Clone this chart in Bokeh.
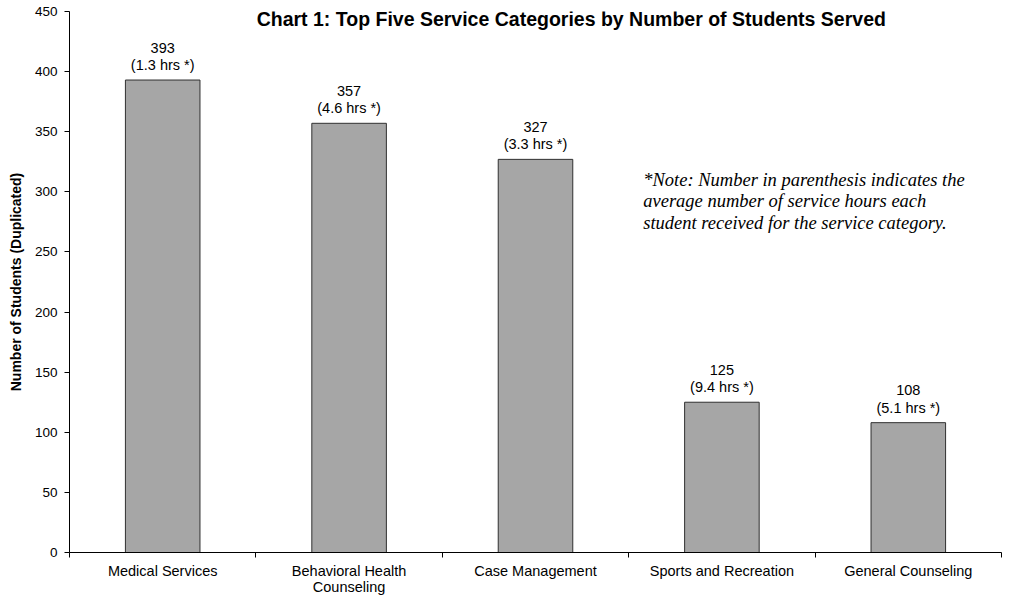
from bokeh.plotting import figure
from bokeh.models import ColumnDataSource, FixedTicker, Label, Range1d
from bokeh.core.properties import value
from bokeh.embed import file_html
from bokeh.resources import INLINE

categories = ["Medical Services", "Behavioral Health\nCounseling", "Case Management",
              "Sports and Recreation", "General Counseling"]
students = [393, 357, 327, 125, 108]
avg_hours = [1.3, 4.6, 3.3, 9.4, 5.1]
y_ticks = [0, 50, 100, 150, 200, 250, 300, 350, 400, 450]

centers = [i + 0.5 for i in range(len(categories))]
labels = [f"{s}\n({h} hrs *)" for s, h in zip(students, avg_hours)]

src = ColumnDataSource(dict(x=centers, top=students, label=labels))

p = figure(width=1010, height=597, output_backend="svg", toolbar_location=None,
           x_range=Range1d(0, len(categories)), y_range=Range1d(0, 450),
           min_border_left=69, min_border_right=9, min_border_top=11, min_border_bottom=45)
p.outline_line_color = None
p.xgrid.visible = False
p.ygrid.visible = False
p.background_fill_color = "white"
p.border_fill_color = "white"

p.vbar(x="x", top="top", width=0.4, source=src, fill_color="#A6A6A6",
       line_color="#303030", line_width=1)

p.text(x="x", y="top", text="label", source=src, text_align="center",
       text_baseline="bottom", y_offset=-7, text_font=value("Liberation Sans"),
       text_font_size="14.5px", text_color="black", text_line_height=1.08)

# x axis
xa = p.xaxis[0]
xa.ticker = FixedTicker(ticks=centers, minor_ticks=list(range(len(categories) + 1)))
xa.major_label_overrides = {c: lab for c, lab in zip(centers, categories)}
xa.major_tick_out = 0
xa.major_tick_in = 0
xa.minor_tick_out = 5
xa.minor_tick_in = 0
xa.axis_line_color = "black"
xa.minor_tick_line_color = "black"
xa.major_label_text_font = "Liberation Sans"
xa.major_label_text_font_size = "14.5px"
xa.major_label_text_color = "black"
xa.major_label_text_line_height = 1.0
xa.major_label_standoff = 5

# y axis
ya = p.yaxis[0]
ya.ticker = FixedTicker(ticks=y_ticks, minor_ticks=[])
ya.major_tick_out = 5
ya.major_tick_in = 0
ya.minor_tick_line_color = None
ya.axis_line_color = "black"
ya.major_tick_line_color = "black"
ya.major_label_text_font = "Liberation Sans"
ya.major_label_text_font_size = "13.5px"
ya.major_label_text_color = "black"
ya.major_label_standoff = 7
ya.axis_label = "Number of Students (Duplicated)"
ya.axis_label_text_font = "Liberation Sans"
ya.axis_label_text_font_size = "14px"
ya.axis_label_text_font_style = "bold"
ya.axis_label_text_color = "black"
ya.axis_label_standoff = 8

title = Label(x=2.692, y=444, text="Chart 1: Top Five Service Categories by Number of Students Served",
              text_align="center", text_baseline="middle", text_font="Liberation Sans",
              text_font_size="19.5px", text_font_style="bold", text_color="black")
p.add_layout(title)

note = Label(x=3.078, y=318.5,
             text="*Note: Number in parenthesis indicates the\naverage number of service hours each\nstudent received for the service category.",
             text_align="left", text_baseline="top", text_font="Liberation Serif",
             text_font_size="18.5px", text_font_style="italic", text_color="black",
             text_line_height=1.09)
p.add_layout(note)

open("out.html", "w").write(file_html(p, INLINE))
